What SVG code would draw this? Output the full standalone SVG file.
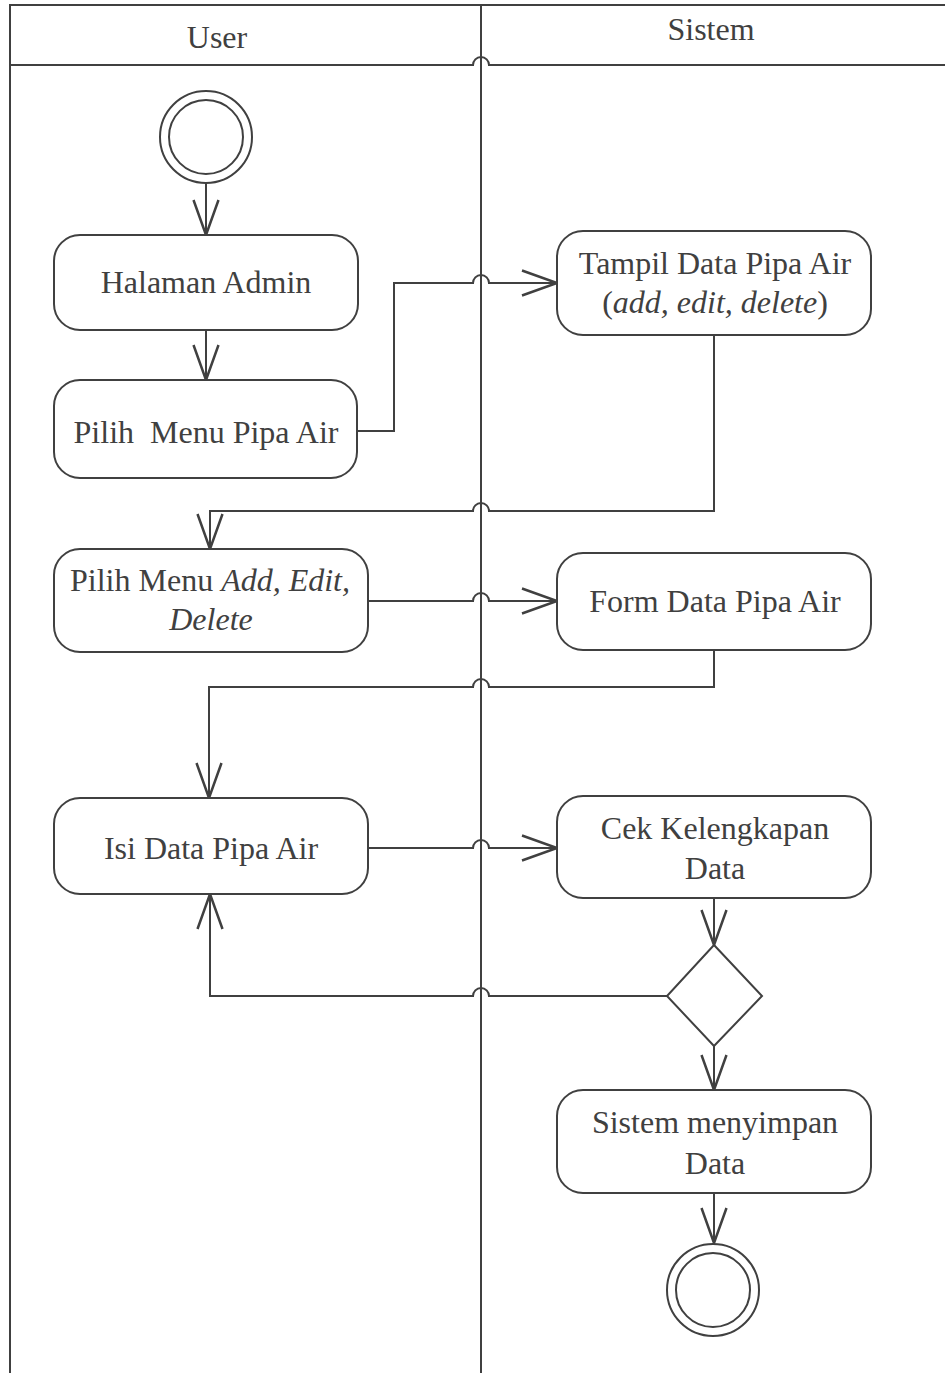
<svg xmlns="http://www.w3.org/2000/svg" width="945" height="1373" viewBox="0 0 945 1373">
<style>
.ln{fill:none;stroke:#404040;stroke-width:2}
.box{fill:#fff;stroke:#404040;stroke-width:2}
.t{font-family:"Liberation Serif","Times New Roman",serif;font-size:32px;fill:#404040;text-anchor:middle}
.i{font-style:italic}
</style>
<defs>
<marker id="arr" markerUnits="userSpaceOnUse" markerWidth="40" markerHeight="30" viewBox="-30 -12 32 24" refX="0" refY="0" orient="auto">
<path d="M-28,-10 L0,0 L-28,10" fill="none" stroke="#404040" stroke-width="2"/>
</marker>
</defs>
<rect width="945" height="1373" fill="#fff"/>
<g id="swimlanes">
<path class="ln" d="M10,1373 V5 H945"/>
<path class="ln" d="M10,65 H473 A8,8 0 0 1 489,65 H945"/>
<path class="ln" d="M481,5 V1373"/>
<text class="t" x="217" y="48">User</text>
<text class="t" x="711" y="40">Sistem</text>
</g>
<g id="connectors">
<path class="ln" marker-end="url(#arr)" d="M206,183 V235"/>
<path class="ln" marker-end="url(#arr)" d="M206,330 V380"/>
<path class="ln" marker-end="url(#arr)" d="M357,431 H394 V283 H473 A8,8 0 0 1 489,283 H557"/>
<path class="ln" marker-end="url(#arr)" d="M714,335 V511 H489 A8,8 0 0 0 473,511 H210 V549"/>
<path class="ln" marker-end="url(#arr)" d="M368,601 H473 A8,8 0 0 1 489,601 H557"/>
<path class="ln" marker-end="url(#arr)" d="M714,650 V687 H489 A8,8 0 0 0 473,687 H209 V798"/>
<path class="ln" marker-end="url(#arr)" d="M368,848 H473 A8,8 0 0 1 489,848 H557"/>
<path class="ln" marker-end="url(#arr)" d="M667,996 H489 A8,8 0 0 0 473,996 H210 V894"/>
<path class="ln" marker-end="url(#arr)" d="M714,898 V945"/>
<path class="ln" marker-end="url(#arr)" d="M714,1046 V1090"/>
<path class="ln" marker-end="url(#arr)" d="M714,1193 V1243"/>
</g>
<g id="start">
<circle class="box" cx="206" cy="137" r="46"/>
<circle class="box" cx="206" cy="137" r="37"/>
</g>
<g id="halaman-admin">
<rect class="box" x="54" y="235" width="304" height="95" rx="26"/>
<text class="t" x="206" y="293">Halaman Admin</text>
</g>
<g id="pilih-menu-pipa-air">
<rect class="box" x="54" y="380" width="303" height="98" rx="26"/>
<text class="t" x="206" y="443" xml:space="preserve">Pilih  Menu Pipa Air</text>
</g>
<g id="tampil-data">
<rect class="box" x="557" y="231" width="314" height="104" rx="26"/>
<text class="t" x="715" y="274">Tampil Data Pipa Air</text>
<text class="t" x="715" y="313">(<tspan class="i">add, edit, delete</tspan>)</text>
</g>
<g id="pilih-menu-add">
<rect class="box" x="54" y="549" width="314" height="103" rx="26"/>
<text class="t" x="210" y="591">Pilih Menu <tspan class="i">Add, Edit,</tspan></text>
<text class="t i" x="211" y="630">Delete</text>
</g>
<g id="form-data">
<rect class="box" x="557" y="553" width="314" height="97" rx="26"/>
<text class="t" x="715" y="612">Form Data Pipa Air</text>
</g>
<g id="isi-data">
<rect class="box" x="54" y="798" width="314" height="96" rx="26"/>
<text class="t" x="211" y="859">Isi Data Pipa Air</text>
</g>
<g id="cek-kelengkapan">
<rect class="box" x="557" y="796" width="314" height="102" rx="26"/>
<text class="t" x="715" y="839">Cek Kelengkapan</text>
<text class="t" x="715" y="879">Data</text>
</g>
<g id="decision">
<path class="box" d="M714,945 L762,996 L714,1046 L667,996 Z"/>
</g>
<g id="sistem-menyimpan">
<rect class="box" x="557" y="1090" width="314" height="103" rx="26"/>
<text class="t" x="715" y="1133">Sistem menyimpan</text>
<text class="t" x="715" y="1174">Data</text>
</g>
<g id="end">
<circle class="box" cx="713" cy="1290" r="46"/>
<circle class="box" cx="713" cy="1290" r="37"/>
</g>
</svg>
